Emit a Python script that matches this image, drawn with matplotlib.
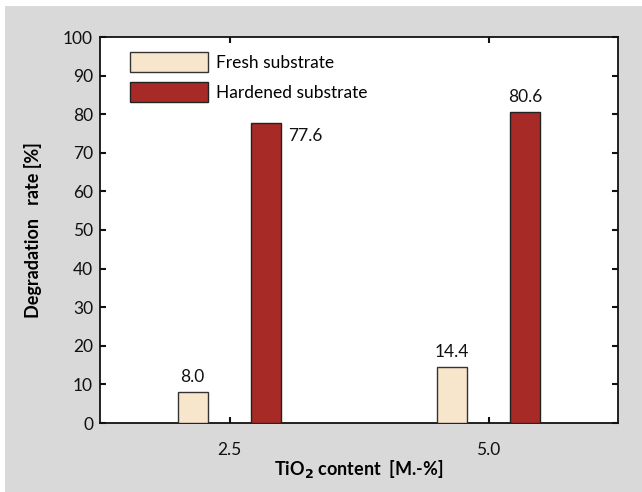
import matplotlib
matplotlib.use("Agg")
import matplotlib.pyplot as plt
from matplotlib.patches import Rectangle
import numpy as np

plt.rcParams['font.family'] = ['Lato', 'DejaVu Sans']

# Data
tio2 = [2.5, 5.0]
tick_labels = ["2.5", "5.0"]
fresh = [8.0, 14.4]
hardened = [77.6, 80.6]
series_names = ["Fresh substrate", "Hardened substrate"]

c_fresh = "#f7e6cc"
c_hard = "#a82a26"
bg = "#d9d9d9"

fig = plt.figure(figsize=(6.42, 4.92), dpi=100)
fig.patch.set_facecolor("white")
fig.patches.append(Rectangle((5/642, 0), 1, 1 - 6/492, transform=fig.transFigure,
                             facecolor=bg, edgecolor="none", zorder=-10))

ax = fig.add_axes([100/642, 1 - 423/492, 518/642, 386/492])
ax.set_facecolor("white")

x = np.array(tio2)
off = 0.355
w = 0.29
ax.bar(x - off, fresh, w, color=c_fresh, edgecolor="#333333", linewidth=1.0,
       label=series_names[0], zorder=3)
ax.bar(x + off, hardened, w, color=c_hard, edgecolor="#222222", linewidth=1.0,
       label=series_names[1], zorder=3)

fs = 12.5
# value labels
for xi, v in zip(x - off, fresh):
    ax.annotate(f"{v:.1f}", (xi, v), xytext=(0, 5), textcoords="offset points",
                ha="center", va="bottom", fontsize=fs, color="#111111")
for i, (xi, v) in enumerate(zip(x + off, hardened)):
    if i == 0:
        ax.annotate(f"{v:.1f}", (xi + w / 2, v), xytext=(5, -3), textcoords="offset points",
                    ha="left", va="top", fontsize=fs, color="#111111")
    else:
        ax.annotate(f"{v:.1f}", (xi, v), xytext=(0, 5), textcoords="offset points",
                    ha="center", va="bottom", fontsize=fs, color="#111111")

ax.set_xlim(1.25, 6.25)
ax.set_ylim(0, 100)
ax.set_yticks(np.arange(0, 101, 10))
ax.set_xticks(tio2)
ax.set_xticklabels(tick_labels)
ax.tick_params(axis="both", direction="in", length=4, width=1.5, labelsize=fs,
               top=True, right=True, colors="#111111")
ax.tick_params(axis="x", pad=14)
ax.tick_params(axis="y", pad=5)
for s in ax.spines.values():
    s.set_linewidth(1.3)
    s.set_color("#111111")

ax.set_ylabel("Degradation   rate [%]", fontsize=fs + 0.5, fontweight="bold", labelpad=15)
ax.set_xlabel("TiO$_\\mathbf{2}$ content  [M.-%]", fontsize=fs + 0.5, fontweight="bold", labelpad=0)

leg = ax.legend(loc="upper left", bbox_to_anchor=(0.045, 0.98), frameon=False,
                fontsize=fs, handlelength=4.45, handleheight=1.45, handletextpad=0.5,
                labelspacing=0.55, borderaxespad=0)

fig.savefig("out.png", dpi=100, facecolor=fig.get_facecolor())
